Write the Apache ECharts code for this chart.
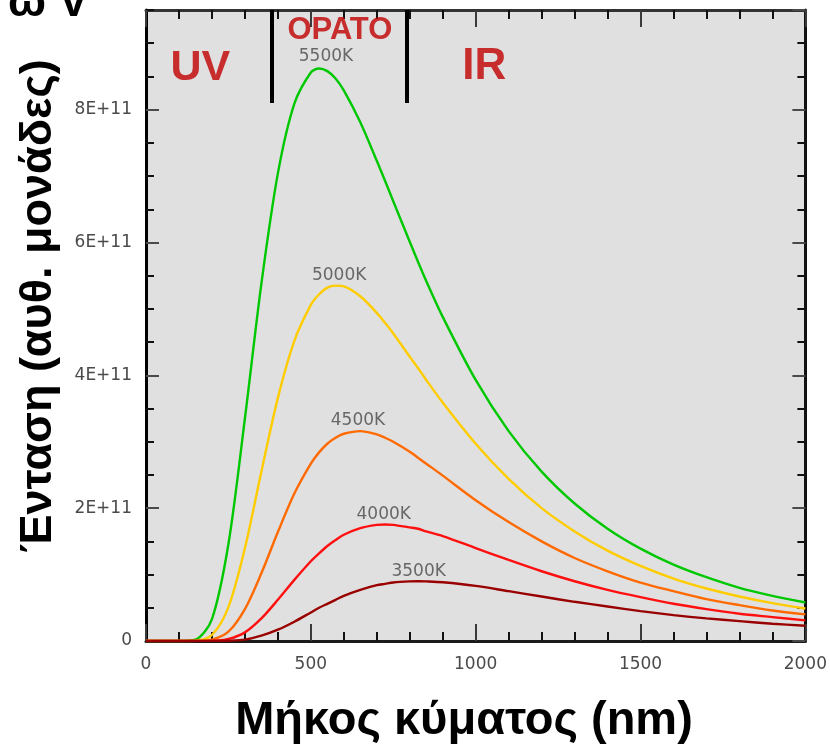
<!DOCTYPE html>
<html><head><meta charset="utf-8">
<script src="https://cdn.jsdelivr.net/npm/echarts@6/dist/echarts.min.js"></script>
<style>html,body{margin:0;padding:0;background:#fff}#c{width:830px;height:747px}</style>
</head><body><div id="c"></div>
<script>
// wavelength (nm)
const wavelengths = [0,100,150,200,250,300,350,400,450,500,525,550,575,600,650,700,725,750,800,825,850,900,1000,1100,1200,1300,1400,1500,1600,1700,1800,1900,2000];
// intensity in units of 1E+11
const t5500 = [0,0,0.02,0.33,1.46,3.35,5.38,7.04,8.09,8.56,8.62,8.58,8.47,8.29,7.81,7.23,6.93,6.62,6.01,5.71,5.42,4.88,3.93,3.16,2.55,2.07,1.69,1.39,1.15,0.96,0.80,0.68,0.58];
const t5000 = [0,0,0.003,0.09,0.51,1.40,2.55,3.66,4.52,5.06,5.22,5.32,5.35,5.34,5.19,4.94,4.79,4.63,4.28,4.11,3.93,3.59,2.97,2.44,2.00,1.65,1.36,1.13,0.94,0.79,0.67,0.57,0.49];
const t4500 = [0,0,0,0.02,0.14,0.48,1.02,1.64,2.22,2.67,2.84,2.97,3.06,3.12,3.16,3.11,3.06,3.00,2.85,2.76,2.67,2.49,2.12,1.79,1.50,1.25,1.05,0.88,0.75,0.63,0.54,0.46,0.40];
const t4000 = [0,0,0,0.002,0.03,0.13,0.34,0.62,0.92,1.20,1.32,1.43,1.52,1.60,1.70,1.748,1.754,1.748,1.71,1.69,1.65,1.58,1.40,1.22,1.05,0.90,0.77,0.66,0.56,0.48,0.41,0.36,0.31];
const t3500 = [0,0,0,0,0.004,0.02,0.08,0.17,0.29,0.43,0.50,0.56,0.62,0.68,0.77,0.84,0.86,0.88,0.897,0.900,0.898,0.885,0.83,0.75,0.67,0.59,0.52,0.45,0.39,0.34,0.30,0.26,0.23];

const seriesNames = ['5500K','5000K','4500K','4000K','3500K'];
const seriesColors = ['#00c800','#ffcc00','#ff6a00','#ff1010','#990000'];
const seriesValues = [t5500,t5000,t4500,t4000,t3500];

// curve label anchor positions (nm, 1E+11)
const labelX = [546,586,643,721,827];
const labelY = [8.80,5.50,3.32,1.90,1.05];

// spectral regions
const regionNames = ['UV','ΟΡΑΤΟ','IR'];
const regionX = [165,588,1026];
const regionY = [8.63,9.19,8.65];
const regionSizes = [43,31,44];
const regionBounds = [380,790];
const boundTop = 9.5, boundBottom = 8.1;

const xTicks = [0,500,1000,1500,2000];
const xTickLabels = ['0','500','1000','1500','2000'];
const yTicks = [0,2,4,6,8];
const yTickLabels = ['0','2E+11','4E+11','6E+11','8E+11'];

const chart = echarts.init(document.getElementById('c'), null, {renderer:'canvas'});

const tickFont = {color:'#4a4a4a', fontFamily:'DejaVu Sans', fontSize:17};

function xAxisDef(pos, major){
  return {
    type:'value', min:0, max:2000, interval: major?500:100, position:pos, offset:0,
    axisLine:{show:major, onZero:false, lineStyle:{color: pos==='bottom'?'#1a1a1a':'#333', width:3}},
    axisTick:{show:true, inside:true, length: major?17:9, lineStyle:{color: major?'#3a3a3a':'#111', width:2}},
    axisLabel: (major && pos==='bottom') ? Object.assign({show:true, margin:15,
      formatter: v => { const i = xTicks.indexOf(v); return i>=0 ? xTickLabels[i] : ''; }}, tickFont) : {show:false},
    splitLine:{show:false}
  };
}
function yAxisDef(pos, major){
  return {
    type:'value', min:0, max:9.5, interval: major?2:0.5, position:pos, offset:0,
    axisLine:{show:major, onZero:false, lineStyle:{color: pos==='left'?'#000':'#111', width:3}},
    axisTick:{show:true, inside:true, length: major?13:8, lineStyle:{color: major?'#4a4a4a':'#111', width:2}},
    axisLabel: (major && pos==='left') ? Object.assign({show:true, margin:14, showMaxLabel:false,
      formatter: v => { const i = yTicks.indexOf(v); return i>=0 ? yTickLabels[i] : ''; }}, tickFont) : {show:false},
    splitLine:{show:false}
  };
}

const lineSeries = seriesValues.map((vals, k) => ({
  type:'line', name:seriesNames[k], xAxisIndex:2, yAxisIndex:2,
  data: wavelengths.map((w,i)=>[w, vals[i]]),
  showSymbol:false, smooth:0.3, z:3,
  lineStyle:{color:seriesColors[k], width:2.4},
  itemStyle:{color:seriesColors[k]}
}));

const option = {
  animation:false,
  backgroundColor:'#ffffff',
  grid:{left:146, top:10, width:661, height:631, show:true, backgroundColor:'#e0e0e0', borderWidth:0},
  xAxis:[xAxisDef('bottom',false), xAxisDef('top',false), xAxisDef('bottom',true), xAxisDef('top',true)],
  yAxis:[yAxisDef('left',false), yAxisDef('right',false), yAxisDef('left',true), yAxisDef('right',true)],
  series: lineSeries.concat([
    {
      type:'scatter', xAxisIndex:2, yAxisIndex:2, symbolSize:1, z:4,
      itemStyle:{color:'rgba(0,0,0,0)'},
      data: seriesNames.map((n,i)=>({value:[labelX[i], labelY[i]], name:n})),
      label:{show:true, position:'inside', formatter: p => p.name, color:'#484848', fontFamily:'DejaVu Sans', fontSize:17}
    },
    {
      type:'scatter', xAxisIndex:2, yAxisIndex:2, symbolSize:1, z:4,
      itemStyle:{color:'rgba(0,0,0,0)'},
      data: regionNames.map((n,i)=>({value:[regionX[i], regionY[i]], name:n, label:{fontSize:regionSizes[i]}})),
      label:{show:true, position:'inside', formatter: p => p.name, color:'#c00000', fontFamily:'Liberation Sans', fontWeight:'bold'},
      markLine:{
        silent:true, symbol:['none','none'], animation:false,
        label:{show:false},
        lineStyle:{color:'#000', width:4, type:'solid'},
        data: regionBounds.map(b => [{coord:[b, boundTop]}, {coord:[b, boundBottom]}])
      }
    }
  ]),
  graphic:[
    {type:'text', x:464, y:721, style:{text:'Μήκος κύματος (nm)', fill:'#000', font:'bold 47px "Liberation Sans"', textAlign:'center', textVerticalAlign:'middle'}},
    {type:'text', x:39, y:306, rotation:Math.PI/2, style:{text:'Ένταση (αυθ. μονάδες)', fill:'#000', font:'bold 45px "Liberation Sans"', textAlign:'center', textVerticalAlign:'middle'}},
    {type:'text', x:8, y:4, style:{text:'ω V', fill:'#000', font:'bold 45px "Liberation Sans"', textAlign:'left', textVerticalAlign:'middle'}}
  ]
};
chart.setOption(option);
</script>
</body></html>
